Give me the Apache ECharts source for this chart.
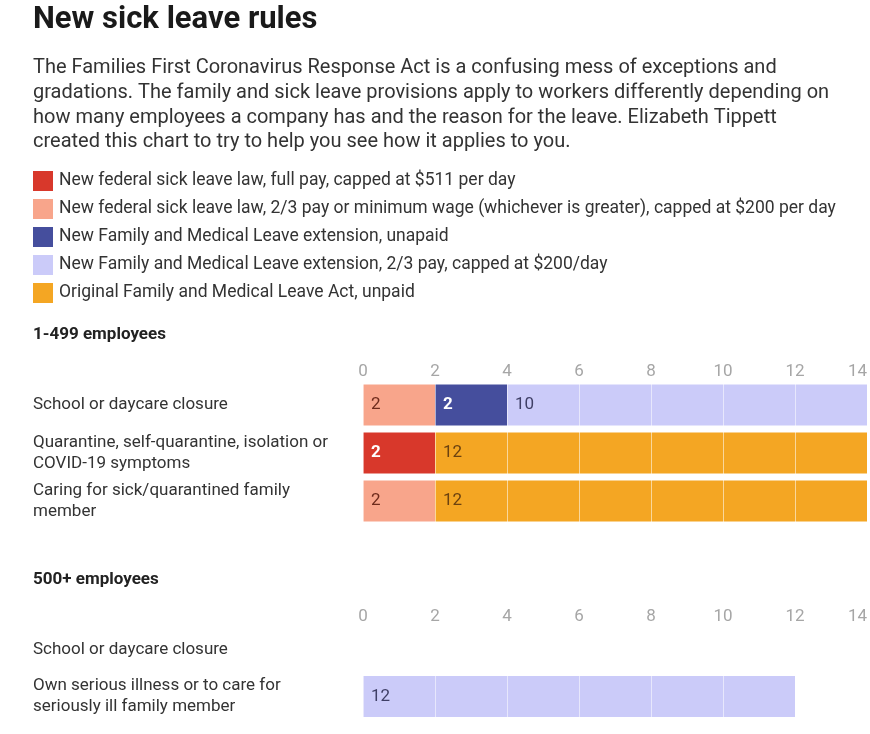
<!DOCTYPE html>
<html>
<head>
<meta charset="utf-8">
<script src="https://cdn.jsdelivr.net/npm/echarts@6/dist/echarts.min.js"></script>
<style>
html,body{margin:0;padding:0;background:#fff;}
#chart{width:870px;height:734px;}
</style>
</head>
<body>
<div id="chart"></div>
<script>
// ---- Data ----
const categories1 = [
  "School or daycare closure",
  "Quarantine, self-quarantine, isolation or\nCOVID-19 symptoms",
  "Caring for sick/quarantined family\nmember"
];
const categories2 = [
  "School or daycare closure",
  "Own serious illness or to care for\nseriously ill family member"
];
const seriesNames = [
  "New federal sick leave law, full pay, capped at $511 per day",
  "New federal sick leave law, 2/3 pay or minimum wage (whichever is greater), capped at $200 per day",
  "New Family and Medical Leave extension, unapaid",
  "New Family and Medical Leave extension, 2/3 pay, capped at $200/day",
  "Original Family and Medical Leave Act, unpaid"
];
const sickFull = [null, 2, null];
const sickPartial = [2, null, 2];
const fmlaUnpaid = [2, null, null];
const fmlaPaid = [10, null, null];
const originalFmla = [null, 12, 12];
const fmlaPaid500 = [null, 12];
const axisMin = 0, axisMax = 14, axisStep = 2;

const titleText = "New sick leave rules";
const descText = "The Families First Coronavirus Response Act is a confusing mess of exceptions and\ngradations. The family and sick leave provisions apply to workers differently depending on\nhow many employees a company has and the reason for the leave. Elizabeth Tippett\ncreated this chart to try to help you see how it applies to you.";
const section1 = "1-499 employees";
const section2 = "500+ employees";

// ---- Styles ----
const FONT = 'Roboto';
const colors = ['#d8382b', '#f8a58b', '#454e9d', '#cbcbf9', '#f4a623'];
const labelColors = ['#ffffff', '#6e2b1c', '#ffffff', '#3f3f66', '#6b4210'];
const labelBold = [true, false, true, false, false];

const chart = echarts.init(document.getElementById('chart'));

function mkSeries(idx, data, gridIdx) {
  return {
    type: 'bar',
    name: seriesNames[idx],
    stack: 'g' + gridIdx,
    xAxisIndex: gridIdx,
    yAxisIndex: gridIdx,
    data: data,
    barWidth: 41,
    itemStyle: { color: colors[idx] },
    label: {
      show: true,
      position: 'insideLeft',
      distance: 8,
      fontFamily: FONT,
      fontSize: 17,
      fontWeight: labelBold[idx] ? 'bold' : 'normal',
      color: labelColors[idx],
      formatter: p => (p.value == null || p.value === 0) ? '' : String(p.value)
    },
    emphasis: { disabled: true },
    animation: false
  };
}

function mkX(gridIdx) {
  return {
    type: 'value', gridIndex: gridIdx, position: 'top',
    min: axisMin, max: axisMax, interval: axisStep,
    z: 5,
    axisLine: { show: false }, axisTick: { show: false },
    axisLabel: { color: '#a6a6a6', fontFamily: FONT, fontSize: 17, margin: 1, alignMaxLabel: 'right' },
    splitLine: { show: true, lineStyle: { color: 'rgba(255,255,255,0.55)', width: 1 } }
  };
}
function mkY(gridIdx, cats) {
  return {
    type: 'category', gridIndex: gridIdx, data: cats, inverse: true,
    axisLine: { show: false }, axisTick: { show: false },
    axisLabel: { align: 'left', margin: 330, color: '#333', fontFamily: FONT, fontSize: 17, lineHeight: 21 },
    splitLine: { show: false }
  };
}

const option = {
  backgroundColor: '#fff',
  textStyle: { fontFamily: FONT },
  title: [
    { text: titleText, left: 33, top: 5, padding: 0, textStyle: { fontFamily: FONT, fontSize: 31, fontWeight: 'bold', color: '#1a1a1a' } },
    { text: descText, left: 33, top: 56, padding: 0, textStyle: { fontFamily: FONT, fontSize: 20, fontWeight: 'normal', lineHeight: 24.7, color: '#333' } },
    { text: section1, left: 33, top: 326, padding: 0, textStyle: { fontFamily: FONT, fontSize: 17, fontWeight: 'bold', color: '#222' } },
    { text: section2, left: 33, top: 571, padding: 0, textStyle: { fontFamily: FONT, fontSize: 17, fontWeight: 'bold', color: '#222' } }
  ],
  legend: {
    orient: 'vertical', left: 33, top: 171, padding: 0,
    itemWidth: 20, itemHeight: 20, itemGap: 8,
    icon: 'rect', selectedMode: false,
    data: seriesNames,
    textStyle: { fontFamily: FONT, fontSize: 17.5, color: '#333', padding: [0, 0, 0, 1] }
  },
  grid: [
    { left: 363, width: 505, top: 381, height: 144, containLabel: false },
    { left: 363, width: 505, top: 626, height: 94, containLabel: false }
  ],
  xAxis: [mkX(0), mkX(1)],
  yAxis: [mkY(0, categories1), mkY(1, categories2)],
  series: [
    mkSeries(0, sickFull, 0),
    mkSeries(1, sickPartial, 0),
    mkSeries(2, fmlaUnpaid, 0),
    mkSeries(3, fmlaPaid, 0),
    mkSeries(4, originalFmla, 0),
    mkSeries(3, fmlaPaid500, 1)
  ],
  animation: false
};
chart.setOption(option);
</script>
</body>
</html>
